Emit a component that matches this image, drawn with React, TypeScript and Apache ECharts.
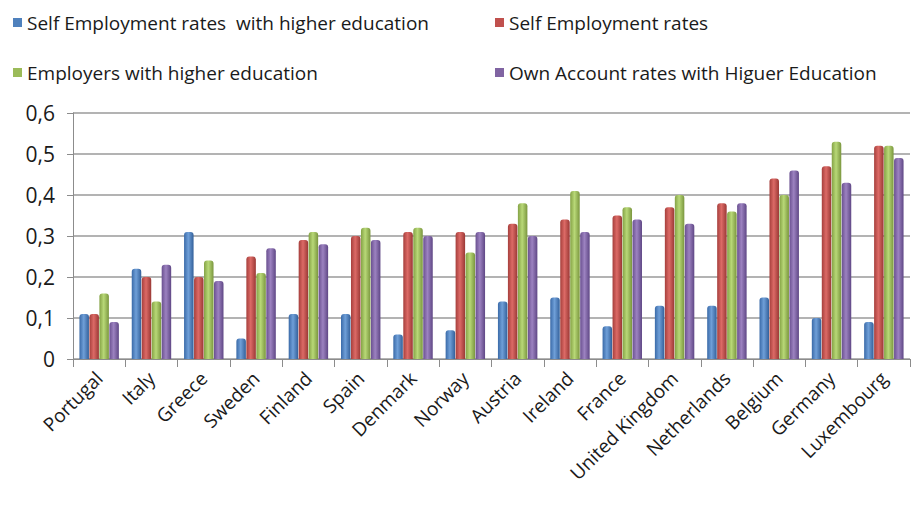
import React, { useEffect, useRef } from "react";
import * as echarts from "echarts";

const countries = ["Portugal", "Italy", "Greece", "Sweden", "Finland", "Spain", "Denmark", "Norway", "Austria", "Ireland", "France", "United Kingdom", "Netherlands", "Belgium", "Germany", "Luxembourg"];
const seriesNames = ["Self Employment rates  with higher education", "Self Employment rates", "Employers with higher education", "Own Account rates with Higuer Education"];
const selfEmpHigherEd = [0.11, 0.22, 0.31, 0.05, 0.11, 0.11, 0.06, 0.07, 0.14, 0.15, 0.08, 0.13, 0.13, 0.15, 0.10, 0.09];
const selfEmpRates = [0.11, 0.20, 0.20, 0.25, 0.29, 0.30, 0.31, 0.31, 0.33, 0.34, 0.35, 0.37, 0.38, 0.44, 0.47, 0.52];
const employersHigherEd = [0.16, 0.14, 0.24, 0.21, 0.31, 0.32, 0.32, 0.26, 0.38, 0.41, 0.37, 0.40, 0.36, 0.40, 0.53, 0.52];
const ownAccountHigherEd = [0.09, 0.23, 0.19, 0.27, 0.28, 0.29, 0.30, 0.31, 0.30, 0.31, 0.34, 0.33, 0.38, 0.46, 0.43, 0.49];
const yTicks = ["0", "0,1", "0,2", "0,3", "0,4", "0,5", "0,6"];

const colors = [
  ["#3a6aa8", "#6f9fd8", "#33609a"],
  ["#a63f3c", "#dc6a66", "#9a3835"],
  ["#84a245", "#b8d877", "#7a963e"],
  ["#6a5090", "#9c82c0", "#5f4785"],
];
const legendColors = ["#4F81BD", "#C0504D", "#9BBB59", "#8064A2"];

function grad(c: string[]) {
  return new echarts.graphic.LinearGradient(0, 0, 1, 0, [
    { offset: 0, color: c[0] },
    { offset: 0.45, color: c[1] },
    { offset: 1, color: c[2] },
  ]);
}

export default function App() {
  const ref = useRef<HTMLDivElement>(null);
  useEffect(() => {
    if (!ref.current) return;
    const chart = echarts.init(ref.current, undefined, { renderer: "svg" });
    const data = [selfEmpHigherEd, selfEmpRates, employersHigherEd, ownAccountHigherEd];
    const legendPos = [
      { left: 0, top: 0 },
      { left: 482, top: 0 },
      { left: 0, top: 50 },
      { left: 482, top: 50 },
    ];
    const fontFamily = "'Open Sans', 'Noto Sans', sans-serif";
    chart.setOption({
      animation: false,
      legend: legendPos.map((p, i) => ({
        ...p,
        data: [{ name: seriesNames[i], itemStyle: { color: legendColors[i] } }],
        icon: "rect",
        itemWidth: 9,
        itemHeight: 9,
        itemGap: 6,
        textStyle: { fontSize: 19, color: "#1a1a1a", fontFamily },
      })),
      grid: { left: 65, right: 2, top: 105, bottom: 142, containLabel: false },
      xAxis: {
        type: "category",
        data: countries,
        axisLine: { lineStyle: { color: "#8c8c8c" } },
        axisTick: { show: true, length: 8, lineStyle: { color: "#8c8c8c" } },
        axisLabel: { rotate: 45, interval: 0, fontSize: 19, color: "#1a1a1a", fontFamily, margin: 16 },
      },
      yAxis: {
        type: "value",
        min: 0,
        max: 0.6,
        interval: 0.1,
        axisLine: { show: true, lineStyle: { color: "#8c8c8c" } },
        axisTick: { show: true, length: 6, lineStyle: { color: "#8c8c8c" } },
        splitLine: { lineStyle: { color: "#9a9a9a", width: 1.5 } },
        axisLabel: {
          fontSize: 21,
          color: "#1a1a1a",
          fontFamily,
          margin: 18,
          formatter: (v: number) => yTicks[Math.round(v * 10)],
        },
      },
      series: data.map((d, i) => ({
        name: seriesNames[i],
        type: "bar",
        data: d,
        barWidth: 9.5,
        barGap: "5%",
        itemStyle: { color: grad(colors[i]), borderRadius: [3, 3, 0, 0] },
      })),
    });
    return () => chart.dispose();
  }, []);
  return <div ref={ref} style={{ width: 904, height: 493 }} />;
}
